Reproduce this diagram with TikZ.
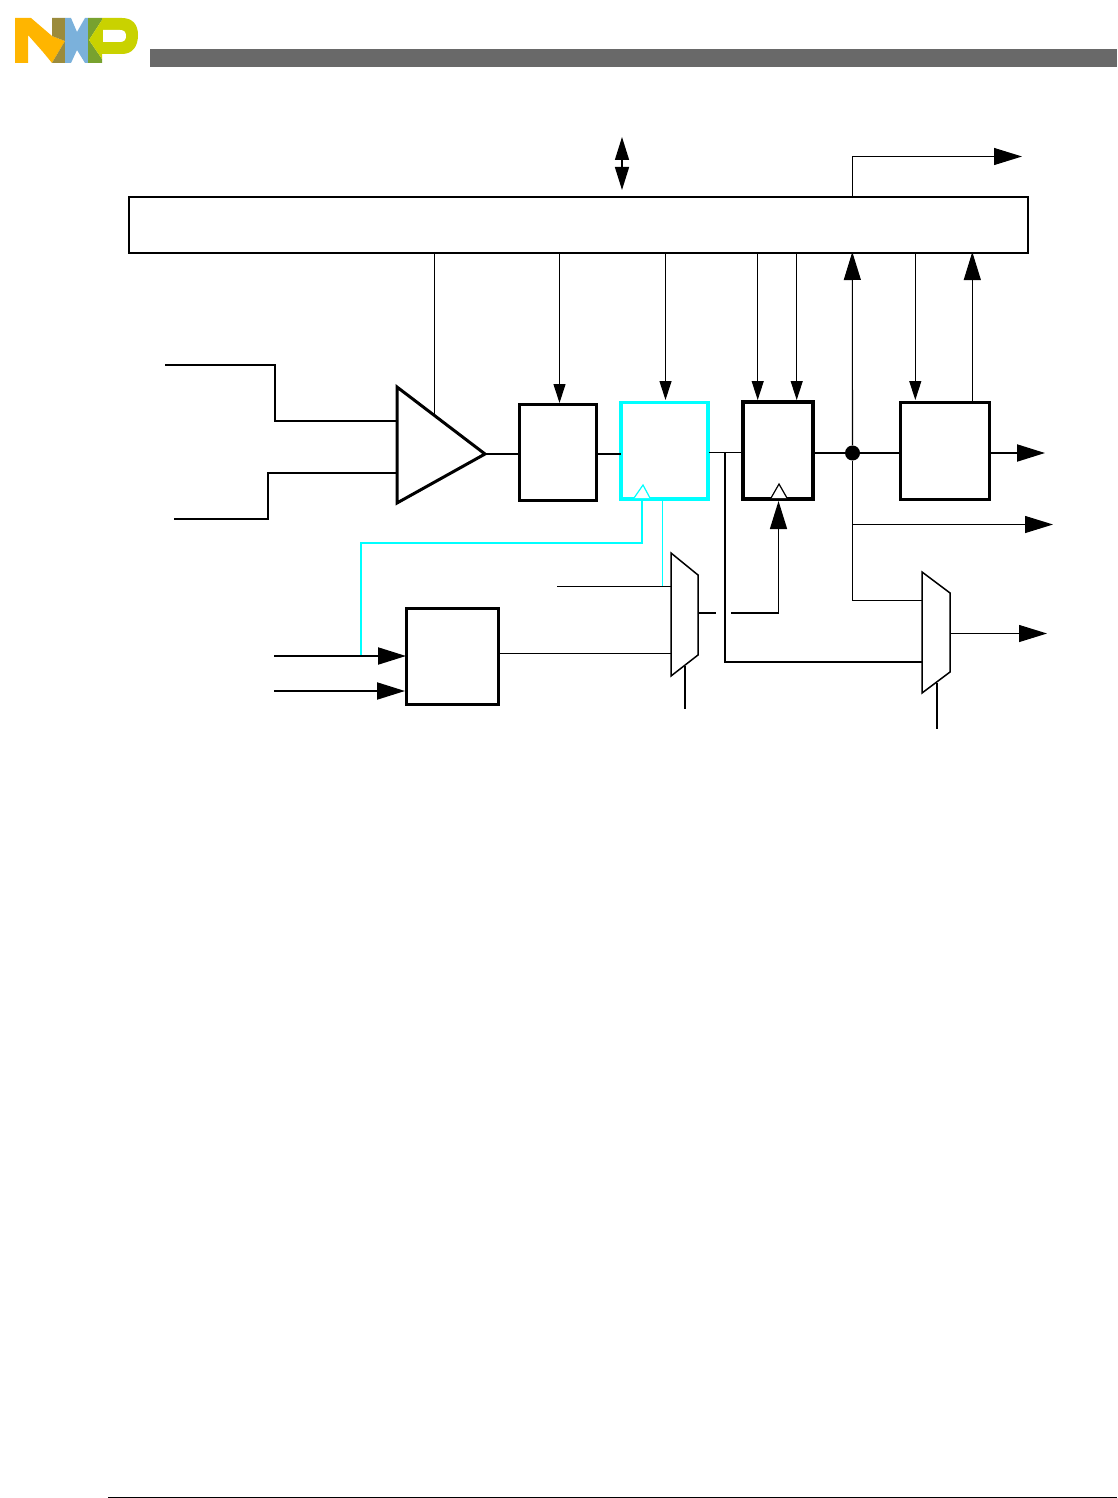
\documentclass[tikz,border=0pt]{standalone}
\usetikzlibrary{arrows.meta,calc}
\definecolor{nxporange}{HTML}{FFB500}
\definecolor{nxpolive}{HTML}{9B8B3C}
\definecolor{nxpblue}{HTML}{7BB1DB}
\definecolor{nxpgreen}{HTML}{78A22F}
\definecolor{nxplime}{HTML}{C9D200}
\definecolor{headgray}{HTML}{696969}
\definecolor{sigcyan}{HTML}{00FFFF}
\tikzset{
  thinw/.style={line width=1.1pt,draw=black},
  midw/.style={line width=1.5pt,draw=black},
  thickw/.style={line width=2pt,draw=black},
  bigbox/.style={draw=black,line width=3pt,fill=white,inner sep=0pt,outer sep=0pt,rectangle},
  cyanw/.style={line width=2pt,draw=sigcyan},
  smallhead/.style={-{Triangle[length=19pt,width=12pt]}},
  bighead/.style={-{Triangle[length=28pt,width=17pt]}},
  bothhead/.style={{Triangle[length=23pt,width=14pt]}-{Triangle[length=23pt,width=14pt]}},
  muxshape/.style={draw=black,line width=1.5pt,fill=white,line join=miter},
}
\begin{document}
\begin{tikzpicture}[x=1pt,y=-1pt]
\useasboundingbox (0,0) rectangle (1117,1498);
% logo
\fill[nxporange] (15,18) -- (31,18) -- (52,36) -- (65,41) -- (52,63) -- (43,52) -- (28,35) -- (28,63) -- (15,63) -- cycle;
\fill[nxpolive] (52,18) -- (65,18) -- (65,41) -- (52,36) -- cycle;
\fill[nxpolive] (65,41) -- (65,63) -- (52,63) -- cycle;
\fill[nxpblue] (65,18) -- (71,18) -- (77,32) -- (85,18) -- (88,18) -- (89,40) -- (88,63) -- (85,63) -- (77,50) -- (71,63) -- (65,63) -- cycle;
\fill[nxpgreen] (88,18) -- (102,18) -- (102,20) -- (89,40) -- (102,59) -- (102,63) -- (88,63) -- cycle;
\fill[nxplime] (102,18) -- (122,18) .. controls (133,18) and (138,25) .. (138,35) .. controls (138,47) and (132,54) .. (122,54) -- (102,54) -- (102,59) -- (89,40) -- (102,20) -- cycle;
\fill[white] (103,30) -- (120,30) .. controls (124,30) and (126,32) .. (126,36) .. controls (126,40) and (124,42) .. (120,42) -- (103,42) -- cycle;
% header and footer
\fill[headgray] (150,49) rectangle (1117,67);
\coordinate (footL) at (108,1497);
\coordinate (footR) at (1117,1497);
\draw[line width=0.8pt] (footL) -- (footR);
% blocks
\node[draw=black,line width=1.5pt,fill=white,inner sep=0pt,outer sep=0pt,minimum width=899pt,minimum height=56pt] (bus) at (578.5,225) {};
\node[bigbox,minimum width=77pt,minimum height=96pt] (filt) at (557.5,452) {};
\node[bigbox,draw=sigcyan,line width=3.3pt,minimum width=87pt,minimum height=96.5pt] (ffa) at (664.5,450.7) {};
\node[bigbox,line width=4pt,minimum width=70pt,minimum height=97pt] (ffb) at (778,450.7) {};
\node[bigbox,minimum width=89pt,minimum height=97pt] (drv) at (944.5,450.5) {};
\node[bigbox,minimum width=92pt,minimum height=96pt] (clk) at (452,656) {};
\node[circle,fill=black,inner sep=0pt,minimum size=15pt] (dot) at (852.5,453) {};
% amplifier
\coordinate (ampT) at (397,387);
\coordinate (ampB) at (397,503);
\coordinate (ampO) at (485,454);
\draw[line width=3pt,fill=white,line join=miter] (ampT) -- (ampO) -- (ampB) -- cycle;
% mux outlines
\coordinate (mOneA) at (671,553);
\coordinate (mOneB) at (698,575);
\coordinate (mOneC) at (698,655);
\coordinate (mOneD) at (671,676);
\draw[muxshape] (mOneA) -- (mOneB) -- (mOneC) -- (mOneD) -- cycle;
\coordinate (mTwoA) at (922,572);
\coordinate (mTwoB) at (950,593);
\coordinate (mTwoC) at (950,672);
\coordinate (mTwoD) at (922,693);
\draw[muxshape] (mTwoA) -- (mTwoB) -- (mTwoC) -- (mTwoD) -- cycle;
% top arrows
\coordinate (ioT) at (622,137);
\coordinate (ioB) at (622,190);
\draw[midw,bothhead] (ioT) -- (ioB);
\coordinate (stS) at (852.5,197);
\coordinate (stM) at (852.5,156.5);
\coordinate (stE) at (1022,156.5);
\draw[thinw,bighead] (stS) -- (stM) -- (stE);
% bus drops
\coordinate (ampBus) at (434.5,253);
\coordinate (ampEnd) at (434.5,415);
\draw[thinw] (ampBus) -- (ampEnd);
\coordinate (bA) at (559.5,253); \coordinate (bAe) at (559.5,403);
\draw[thinw,smallhead] (bA) -- (bAe);
\coordinate (bB) at (665.5,253); \coordinate (bBe) at (665.5,400);
\draw[thinw,smallhead] (bB) -- (bBe);
\coordinate (bC) at (757.7,253); \coordinate (bCe) at (757.7,400);
\draw[thinw,smallhead] (bC) -- (bCe);
\coordinate (bD) at (796.7,253); \coordinate (bDe) at (796.7,400);
\draw[thinw,smallhead] (bD) -- (bDe);
\coordinate (bE) at (915.3,253); \coordinate (bEe) at (915.3,400);
\draw[thinw,smallhead] (bE) -- (bEe);
\coordinate (bF) at (972.3,401); \coordinate (bFe) at (972.3,252);
\draw[thinw,bighead] (bF) -- (bFe);
\coordinate (dotUp) at (852.3,252);
\draw[thinw,bighead] (dot) -- (dotUp);
% amplifier inputs
\coordinate (inA) at (165,365); \coordinate (inAa) at (275,365); \coordinate (inAb) at (275,421); \coordinate (inAc) at (397,421);
\draw[midw] (inA) -- (inAa) -- (inAb) -- (inAc);
\coordinate (inB) at (174,519); \coordinate (inBa) at (268,519); \coordinate (inBb) at (268,473); \coordinate (inBc) at (397,473);
\draw[midw] (inB) -- (inBa) -- (inBb) -- (inBc);
% data path
\coordinate (fL) at (filt.west |- ampO);
\coordinate (fR) at (filt.east |- ampO);
\coordinate (aL) at (ffa.west |- ampO);
\draw[thickw] (ampO) -- (fL);
\draw[thickw] (fR) -- (aL);
\coordinate (aR) at (709,452.5);
\coordinate (bL) at (743,452.5);
\draw[thinw] (aR) -- (bL);
\coordinate (tap) at (725,452.5);
\coordinate (tapD) at (725,662);
\coordinate (mTwoIn) at (922,662);
\draw[thickw] (tap) -- (tapD) -- (mTwoIn);
\coordinate (bR) at (813,453);
\coordinate (drvL) at (900,453);
\draw[thickw] (bR) -- (dot) -- (drvL);
\coordinate (drvR) at (989,453);
\coordinate (drvO) at (1045,453);
\draw[thickw,bighead] (drvR) -- (drvO);
\coordinate (brB) at (852.5,524.5);
\coordinate (brE) at (1053,524.5);
\draw[thinw,bighead] (brB) -- (brE);
\coordinate (dnB) at (852.5,600.5);
\coordinate (dnE) at (922,600.5);
\draw[thinw] (dot) -- (dnB) -- (dnE);
\coordinate (mTwoO) at (950,633.5);
\coordinate (mTwoE) at (1047,633.5);
\draw[thinw,bighead] (mTwoO) -- (mTwoE);
\coordinate (mTwoS) at (937,683);
\coordinate (mTwoSe) at (937,729);
\draw[thickw] (mTwoS) -- (mTwoSe);
% clock generator
\coordinate (ckA) at (274,656); \coordinate (ckAe) at (406,656);
\draw[thickw,bighead] (ckA) -- (ckAe);
\coordinate (ckB) at (274,691); \coordinate (ckBe) at (405,691);
\draw[thickw,bighead] (ckB) -- (ckBe);
\coordinate (clkR) at (499,653.5); \coordinate (mOneIn) at (671,653.5);
\draw[thinw] (clkR) -- (mOneIn);
\coordinate (mOneUp) at (557,586.5); \coordinate (mOneUpE) at (671,586.5);
\draw[thinw] (mOneUp) -- (mOneUpE);
\coordinate (mOneS) at (685,666); \coordinate (mOneSe) at (685,709);
\draw[thickw] (mOneS) -- (mOneSe);
\coordinate (mOneO) at (698,613); \coordinate (mOneOg) at (716,613);
\draw[midw] (mOneO) -- (mOneOg);
\coordinate (ckIn) at (731,613); \coordinate (ckCor) at (778.5,613); \coordinate (ckTip) at (778.5,501);
\draw[midw,bighead] (ckIn) -- (ckCor) -- (ckTip);
% cyan signals
\coordinate (cyA) at (361,655); \coordinate (cyB) at (361,543); \coordinate (cyC) at (642,543); \coordinate (cyD) at (642,499);
\draw[cyanw] (cyA) -- (cyB) -- (cyC) -- (cyD);
\coordinate (cyE) at (662.5,500); \coordinate (cyF) at (662.5,586);
\draw[line width=1.5pt,draw=sigcyan] (cyE) -- (cyF);
% clock triangles
\coordinate (cOneL) at (634,498); \coordinate (cOneT) at (643,485); \coordinate (cOneR) at (650,498);
\draw[line width=1.2pt,draw=sigcyan,fill=white] (cOneL) -- (cOneT) -- (cOneR);
\coordinate (cTwoL) at (771,498); \coordinate (cTwoT) at (779,484); \coordinate (cTwoR) at (787,498);
\draw[line width=1.2pt,draw=black,fill=white] (cTwoL) -- (cTwoT) -- (cTwoR);
\end{tikzpicture}
\end{document}
